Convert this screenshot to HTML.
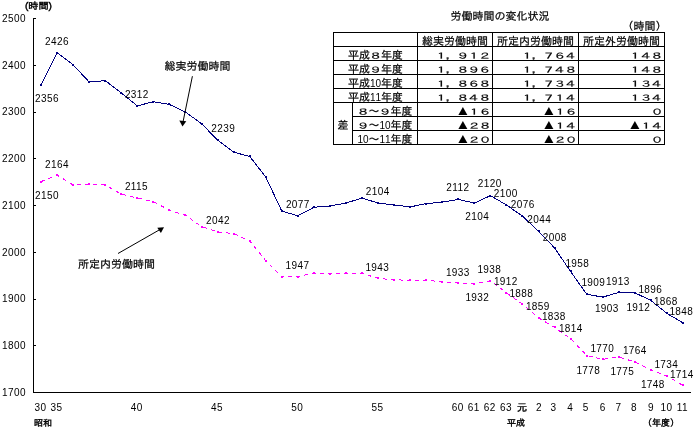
<!DOCTYPE html>
<html lang="ja"><head><meta charset="utf-8"><title>労働時間の変化状況</title>
<style>
html,body{margin:0;padding:0;background:#fff;}
body{width:696px;height:431px;overflow:hidden;}
svg{display:block;}
text{font-family:"Liberation Sans","IPAGothic","Noto Sans CJK JP",sans-serif;fill:#000;}
.n{font-size:10px;letter-spacing:0.4px;}
.j{font-size:11px;stroke:#000;stroke-width:0.22px;}
.d{font-size:11px;stroke:#000;stroke-width:0.22px;}
.t{font-size:15px;}
.s{font-size:9px;stroke:#000;stroke-width:0.4px;}
.ax{stroke:#000;stroke-width:1;fill:none;shape-rendering:crispEdges;}
.tb{stroke:#000;stroke-width:1;fill:none;shape-rendering:crispEdges;}
</style></head><body>
<svg width="696" height="431" viewBox="0 0 696 431">
<rect x="0" y="0" width="696" height="431" fill="#ffffff"/>
<g class="ax">
<path d="M33.5 18V392.5H691"/>
<path d="M33.5 392.5H36"/>
<path d="M33.5 345.5H36"/>
<path d="M33.5 299.5H36"/>
<path d="M33.5 252.5H36"/>
<path d="M33.5 205.5H36"/>
<path d="M33.5 158.5H36"/>
<path d="M33.5 112.5H36"/>
<path d="M33.5 65.5H36"/>
<path d="M33.5 18.5H36"/>
</g>
<g class="n">
<text x="2" y="395.8">1700</text>
<text x="2" y="349.1">1800</text>
<text x="2" y="302.3">1900</text>
<text x="2" y="255.6">2000</text>
<text x="2" y="208.8">2100</text>
<text x="2" y="162.1">2200</text>
<text x="2" y="115.3">2300</text>
<text x="2" y="68.5">2400</text>
<text x="2" y="21.8">2500</text>
</g>
<text class="s" x="25" y="8.5" textLength="27" lengthAdjust="spacingAndGlyphs">(時間)</text>
<g class="n" text-anchor="middle">
<text x="40.4" y="411">30</text>
<text x="56.4" y="411">35</text>
<text x="136.7" y="411">40</text>
<text x="217.0" y="411">45</text>
<text x="297.2" y="411">50</text>
<text x="377.4" y="411">55</text>
<text x="457.7" y="411">60</text>
<text x="473.8" y="411">61</text>
<text x="489.8" y="411">62</text>
<text x="505.9" y="411">63</text>
<text x="538.9" y="411">2</text>
<text x="553.6" y="411">3</text>
<text x="570.2" y="411">4</text>
<text x="585.8" y="411">5</text>
<text x="602.8" y="411">6</text>
<text x="618.5" y="411">7</text>
<text x="634.0" y="411">8</text>
<text x="651.1" y="411">9</text>
<text x="666.4" y="411">10</text>
<text x="682.4" y="411">11</text>
</g>
<text class="s" x="521.9" y="411" text-anchor="middle" style="font-size:10px">元</text>
<text class="s" x="34" y="426">昭和</text>
<text class="s" x="507" y="426">平成</text>
<text class="s" x="643" y="426">（年度）</text>
<polyline points="41.0,181.6 57.0,175.1 73.1,184.9 89.2,184.0 105.2,184.9 121.2,194.2 137.3,198.0 153.4,201.7 169.4,210.1 185.5,215.3 201.5,226.5 217.6,232.1 233.6,233.5 249.7,241.0 265.7,260.6 281.8,277.0 297.8,276.5 313.9,273.3 329.9,273.7 345.9,273.3 362.0,273.3 378.1,278.4 394.1,279.8 410.2,280.3 426.2,280.3 442.2,281.7 458.3,283.1 474.4,283.5 490.4,280.7 506.5,292.9 522.5,304.1 538.5,317.7 554.6,327.5 570.6,338.7 586.7,355.5 602.8,359.3 618.8,356.9 634.9,362.1 650.9,369.6 667.0,376.1 683.0,385.5" fill="none" stroke="#ff00ff" stroke-width="1" stroke-dasharray="4 4" shape-rendering="crispEdges" stroke-linejoin="bevel"/>
<g fill="#ff00ff">
<rect x="40" y="181" width="2" height="2"/>
<rect x="56" y="174" width="2" height="2"/>
<rect x="72" y="184" width="2" height="2"/>
<rect x="88" y="183" width="2" height="2"/>
<rect x="104" y="184" width="2" height="2"/>
<rect x="120" y="193" width="2" height="2"/>
<rect x="136" y="197" width="2" height="2"/>
<rect x="152" y="201" width="2" height="2"/>
<rect x="168" y="209" width="2" height="2"/>
<rect x="184" y="214" width="2" height="2"/>
<rect x="201" y="226" width="2" height="2"/>
<rect x="217" y="231" width="2" height="2"/>
<rect x="233" y="233" width="2" height="2"/>
<rect x="249" y="240" width="2" height="2"/>
<rect x="265" y="260" width="2" height="2"/>
<rect x="281" y="276" width="2" height="2"/>
<rect x="297" y="276" width="2" height="2"/>
<rect x="313" y="272" width="2" height="2"/>
<rect x="329" y="273" width="2" height="2"/>
<rect x="345" y="272" width="2" height="2"/>
<rect x="361" y="272" width="2" height="2"/>
<rect x="377" y="277" width="2" height="2"/>
<rect x="393" y="279" width="2" height="2"/>
<rect x="409" y="279" width="2" height="2"/>
<rect x="425" y="279" width="2" height="2"/>
<rect x="441" y="281" width="2" height="2"/>
<rect x="457" y="282" width="2" height="2"/>
<rect x="473" y="283" width="2" height="2"/>
<rect x="489" y="280" width="2" height="2"/>
<rect x="505" y="292" width="2" height="2"/>
<rect x="521" y="303" width="2" height="2"/>
<rect x="538" y="317" width="2" height="2"/>
<rect x="554" y="326" width="2" height="2"/>
<rect x="570" y="338" width="2" height="2"/>
<rect x="586" y="355" width="2" height="2"/>
<rect x="602" y="358" width="2" height="2"/>
<rect x="618" y="356" width="2" height="2"/>
<rect x="634" y="361" width="2" height="2"/>
<rect x="650" y="369" width="2" height="2"/>
<rect x="666" y="375" width="2" height="2"/>
<rect x="682" y="384" width="2" height="2"/>
</g>
<polyline points="41.0,85.3 57.0,52.6 73.1,64.8 89.2,82.0 105.2,80.6 121.2,92.8 137.3,105.9 153.4,101.7 169.4,104.5 185.5,112.0 201.5,123.7 217.6,140.0 233.6,152.2 249.7,156.4 265.7,176.9 281.8,211.1 297.8,215.8 313.9,207.3 329.9,205.9 345.9,203.1 362.0,198.0 378.1,203.1 394.1,205.0 410.2,206.9 426.2,203.6 442.2,202.2 458.3,199.4 474.4,203.1 490.4,195.6 506.5,205.0 522.5,216.2 538.5,231.2 554.6,248.0 570.6,271.4 586.7,294.3 602.8,297.1 618.8,292.4 634.9,292.9 650.9,300.4 667.0,313.5 683.0,322.8" fill="none" stroke="#000080" stroke-width="1" shape-rendering="crispEdges" stroke-linejoin="bevel"/>
<g fill="#000080">
<rect x="40" y="84" width="2" height="2"/>
<rect x="56" y="52" width="2" height="2"/>
<rect x="72" y="64" width="2" height="2"/>
<rect x="88" y="81" width="2" height="2"/>
<rect x="104" y="80" width="2" height="2"/>
<rect x="120" y="92" width="2" height="2"/>
<rect x="136" y="105" width="2" height="2"/>
<rect x="152" y="101" width="2" height="2"/>
<rect x="168" y="103" width="2" height="2"/>
<rect x="184" y="111" width="2" height="2"/>
<rect x="201" y="123" width="2" height="2"/>
<rect x="217" y="139" width="2" height="2"/>
<rect x="233" y="151" width="2" height="2"/>
<rect x="249" y="155" width="2" height="2"/>
<rect x="265" y="176" width="2" height="2"/>
<rect x="281" y="210" width="2" height="2"/>
<rect x="297" y="215" width="2" height="2"/>
<rect x="313" y="206" width="2" height="2"/>
<rect x="329" y="205" width="2" height="2"/>
<rect x="345" y="202" width="2" height="2"/>
<rect x="361" y="197" width="2" height="2"/>
<rect x="377" y="202" width="2" height="2"/>
<rect x="393" y="204" width="2" height="2"/>
<rect x="409" y="206" width="2" height="2"/>
<rect x="425" y="203" width="2" height="2"/>
<rect x="441" y="201" width="2" height="2"/>
<rect x="457" y="198" width="2" height="2"/>
<rect x="473" y="202" width="2" height="2"/>
<rect x="489" y="195" width="2" height="2"/>
<rect x="505" y="204" width="2" height="2"/>
<rect x="521" y="215" width="2" height="2"/>
<rect x="538" y="230" width="2" height="2"/>
<rect x="554" y="247" width="2" height="2"/>
<rect x="570" y="270" width="2" height="2"/>
<rect x="586" y="293" width="2" height="2"/>
<rect x="602" y="296" width="2" height="2"/>
<rect x="618" y="291" width="2" height="2"/>
<rect x="634" y="292" width="2" height="2"/>
<rect x="650" y="299" width="2" height="2"/>
<rect x="666" y="312" width="2" height="2"/>
<rect x="682" y="322" width="2" height="2"/>
</g>
<g class="n">
<text x="45.0" y="45.0">2426</text>
<text x="35.1" y="102.3">2356</text>
<text x="124.9" y="98.0">2312</text>
<text x="211.3" y="132.0">2239</text>
<text x="285.9" y="208.0">2077</text>
<text x="365.8" y="194.7">2104</text>
<text x="446.3" y="190.5">2112</text>
<text x="477.8" y="187.0">2120</text>
<text x="493.8" y="196.5">2100</text>
<text x="510.8" y="207.5">2076</text>
<text x="465.3" y="219.7">2104</text>
<text x="527.3" y="223.0">2044</text>
<text x="542.8" y="240.5">2008</text>
<text x="565.4" y="266.5">1958</text>
<text x="581.4" y="286.0">1909</text>
<text x="605.9" y="284.5">1913</text>
<text x="594.9" y="312.0">1903</text>
<text x="626.4" y="310.5">1912</text>
<text x="638.4" y="293.0">1896</text>
<text x="653.9" y="305.0">1868</text>
<text x="669.4" y="315.0">1848</text>
<text x="45.0" y="167.5">2164</text>
<text x="35.1" y="198.5">2150</text>
<text x="124.9" y="190.0">2115</text>
<text x="206.0" y="224.3">2042</text>
<text x="285.5" y="269.3">1947</text>
<text x="365.4" y="270.5">1943</text>
<text x="445.9" y="275.5">1933</text>
<text x="477.4" y="273.0">1938</text>
<text x="493.9" y="285.0">1912</text>
<text x="465.4" y="301.0">1932</text>
<text x="509.4" y="296.5">1888</text>
<text x="525.9" y="310.0">1859</text>
<text x="541.9" y="319.5">1838</text>
<text x="558.9" y="331.5">1814</text>
<text x="576.4" y="373.5">1778</text>
<text x="590.4" y="351.5">1770</text>
<text x="610.4" y="374.5">1775</text>
<text x="622.9" y="354.0">1764</text>
<text x="640.9" y="387.5">1748</text>
<text x="654.4" y="368.0">1734</text>
<text x="669.9" y="377.5">1714</text>
</g>
<text class="j" x="164.5" y="69.5">総実労働時間</text>
<path d="M192.4 76.2L183 122" stroke="#000" stroke-width="1" fill="none"/>
<path d="M182.5 126.5L179.3 120.4L186.3 121.2Z" fill="#000"/>
<text class="j" x="78" y="267.5">所定内労働時間</text>
<path d="M118 253.5L160 229.5" stroke="#000" stroke-width="1" fill="none"/>
<path d="M164 227.2L157.3 227.8L160.9 233Z" fill="#000"/>
<text class="j" x="450.5" y="19.5">労働時間の変化状況</text>
<text class="j" x="622.5" y="30.3">（時間）</text>
<g class="tb">
<rect x="333.5" y="32.5" width="331" height="112"/>
<path d="M333.5 46.5H664.5"/>
<path d="M333.5 60.5H664.5"/>
<path d="M333.5 74.5H664.5"/>
<path d="M333.5 88.5H664.5"/>
<path d="M333.5 102.5H664.5"/>
<path d="M352.5 116.5H664.5"/>
<path d="M352.5 130.5H664.5"/>
<path d="M417.5 32.5V144.5M492.5 32.5V144.5M578.5 32.5V144.5M352.5 102.5V144.5"/>
</g>
<g class="j">
<g text-anchor="middle">
<text x="455" y="45.3">総実労働時間</text>
<text x="535.5" y="45.3">所定内労働時間</text>
<text x="621.5" y="45.3">所定外労働時間</text>
</g>
<text x="348.00" y="59.3">平成</text>
<text class="d" transform="translate(368.90,58.5) scale(1.2,0.77)" letter-spacing="-1.833">８</text>
<text x="381.00" y="59.3">年度</text>
<text x="348.00" y="73.3">平成</text>
<text class="d" transform="translate(368.90,72.5) scale(1.2,0.77)" letter-spacing="-1.833">９</text>
<text x="381.00" y="73.3">年度</text>
<text x="348.00" y="87.3">平成</text>
<text x="370.00" y="86.7" style="font-size:10px;stroke:none" textLength="11.0" lengthAdjust="spacing">10</text>
<text x="381.00" y="87.3">年度</text>
<text x="348.00" y="101.3">平成</text>
<text x="370.00" y="100.7" style="font-size:10px;stroke:none" textLength="11.0" lengthAdjust="spacing">11</text>
<text x="381.00" y="101.3">年度</text>
<text class="d" transform="translate(356.40,114.5) scale(1.2,0.77)" letter-spacing="-1.833">８</text>
<text x="368.50" y="115.3">～</text>
<text class="d" transform="translate(378.40,114.5) scale(1.2,0.77)" letter-spacing="-1.833">９</text>
<text x="390.50" y="115.3">年度</text>
<text class="d" transform="translate(356.40,128.5) scale(1.2,0.77)" letter-spacing="-1.833">９</text>
<text x="368.50" y="129.3">～</text>
<text x="379.50" y="128.7" style="font-size:10px;stroke:none" textLength="11.0" lengthAdjust="spacing">10</text>
<text x="390.50" y="129.3">年度</text>
<text x="357.50" y="142.7" style="font-size:10px;stroke:none" textLength="11.0" lengthAdjust="spacing">10</text>
<text x="368.50" y="143.3">～</text>
<text x="379.50" y="142.7" style="font-size:10px;stroke:none" textLength="11.0" lengthAdjust="spacing">11</text>
<text x="390.50" y="143.3">年度</text>
<g text-anchor="middle">
<text x="343" y="129.3">差</text>
</g>
</g>
<g>
<text class="d" transform="translate(434.40,58.5) scale(1.2,0.77)" letter-spacing="-1.833">１，９１２</text>
<text class="d" transform="translate(520.40,58.5) scale(1.2,0.77)" letter-spacing="-1.833">１，７６４</text>
<text class="d" transform="translate(628.40,58.5) scale(1.2,0.77)" letter-spacing="-1.833">１４８</text>
<text class="d" transform="translate(434.40,72.5) scale(1.2,0.77)" letter-spacing="-1.833">１，８９６</text>
<text class="d" transform="translate(520.40,72.5) scale(1.2,0.77)" letter-spacing="-1.833">１，７４８</text>
<text class="d" transform="translate(628.40,72.5) scale(1.2,0.77)" letter-spacing="-1.833">１４８</text>
<text class="d" transform="translate(434.40,86.5) scale(1.2,0.77)" letter-spacing="-1.833">１，８６８</text>
<text class="d" transform="translate(520.40,86.5) scale(1.2,0.77)" letter-spacing="-1.833">１，７３４</text>
<text class="d" transform="translate(628.40,86.5) scale(1.2,0.77)" letter-spacing="-1.833">１３４</text>
<text class="d" transform="translate(434.40,100.5) scale(1.2,0.77)" letter-spacing="-1.833">１，８４８</text>
<text class="d" transform="translate(520.40,100.5) scale(1.2,0.77)" letter-spacing="-1.833">１，７１４</text>
<text class="d" transform="translate(628.40,100.5) scale(1.2,0.77)" letter-spacing="-1.833">１３４</text>
<text class="d" transform="translate(467.40,114.5) scale(1.2,0.77)" letter-spacing="-1.833">１６</text>
<text class="t" transform="translate(455.36,114.8) scale(1.03,0.92)">▲</text>
<text class="d" transform="translate(553.40,114.5) scale(1.2,0.77)" letter-spacing="-1.833">１６</text>
<text class="t" transform="translate(541.36,114.8) scale(1.03,0.92)">▲</text>
<text class="d" transform="translate(650.40,114.5) scale(1.2,0.77)" letter-spacing="-1.833">０</text>
<text class="d" transform="translate(467.40,128.5) scale(1.2,0.77)" letter-spacing="-1.833">２８</text>
<text class="t" transform="translate(455.36,128.8) scale(1.03,0.92)">▲</text>
<text class="d" transform="translate(553.40,128.5) scale(1.2,0.77)" letter-spacing="-1.833">１４</text>
<text class="t" transform="translate(541.36,128.8) scale(1.03,0.92)">▲</text>
<text class="d" transform="translate(639.40,128.5) scale(1.2,0.77)" letter-spacing="-1.833">１４</text>
<text class="t" transform="translate(627.36,128.8) scale(1.03,0.92)">▲</text>
<text class="d" transform="translate(467.40,142.5) scale(1.2,0.77)" letter-spacing="-1.833">２０</text>
<text class="t" transform="translate(455.36,142.8) scale(1.03,0.92)">▲</text>
<text class="d" transform="translate(553.40,142.5) scale(1.2,0.77)" letter-spacing="-1.833">２０</text>
<text class="t" transform="translate(541.36,142.8) scale(1.03,0.92)">▲</text>
<text class="d" transform="translate(650.40,142.5) scale(1.2,0.77)" letter-spacing="-1.833">０</text>
</g>
</svg></body></html>
